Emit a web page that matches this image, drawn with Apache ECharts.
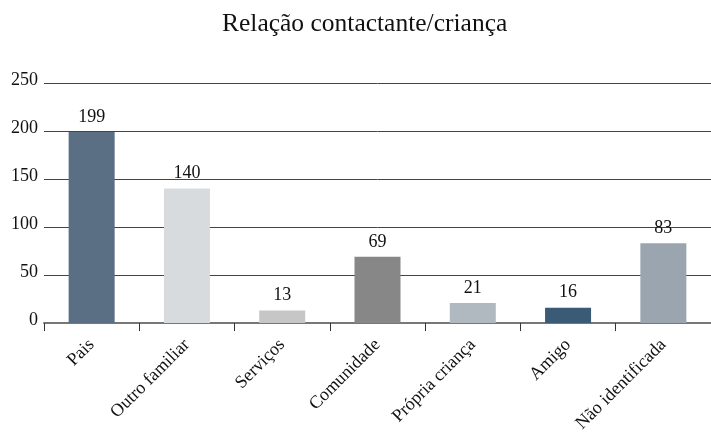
<!DOCTYPE html>
<html>
<head>
<meta charset="utf-8">
<script src="https://cdn.jsdelivr.net/npm/echarts@6/dist/echarts.min.js"></script>
<style>
html,body{margin:0;padding:0;background:#fff;}
#chart{width:711px;height:435px;}
</style>
</head>
<body>
<div id="chart"></div>
<script>
// Contacts by relationship to the child
const titleText = 'Relação contactante/criança';
const categories = ['Pais', 'Outro familiar', 'Serviços', 'Comunidade', 'Própria criança', 'Amigo', 'Não identificada'];
const values = [199, 140, 13, 69, 21, 16, 83];
const barColors = ['#5a6f84', '#d8dbde', '#c6c6c6', '#878787', '#b1b9c0', '#3b5a75', '#9ba5af'];
const yTicks = [0, 50, 100, 150, 200, 250];

const FONT = '"Liberation Serif", "DejaVu Serif", serif';

const chart = echarts.init(document.getElementById('chart'), null, {renderer: 'canvas'});
chart.setOption({
  animation: false,
  backgroundColor: '#ffffff',
  title: {
    text: titleText,
    left: 217,
    top: 6,
    textStyle: {fontFamily: FONT, fontSize: 25.5, fontWeight: 'normal', color: '#111'}
  },
  grid: {left: 44, right: -5, top: 83, bottom: 111, containLabel: false},
  xAxis: {
    type: 'category',
    data: categories,
    axisLine: {show: true, lineStyle: {color: '#777', width: 2}},
    axisTick: {show: true, length: 8, alignWithLabel: false, lineStyle: {color: '#333', width: 1}},
    axisLabel: {
      rotate: 45,
      interval: 0,
      margin: 19,
      fontFamily: FONT,
      fontSize: 18,
      color: '#111'
    }
  },
  yAxis: {
    type: 'value',
    min: yTicks[0],
    max: yTicks[yTicks.length - 1],
    interval: 50,
    axisLine: {show: false},
    axisTick: {show: false},
    axisLabel: {
      fontFamily: FONT,
      fontSize: 18,
      color: '#111',
      margin: 6,
      verticalAlign: 'bottom',
      lineHeight: 18,
      padding: [0, 0, -6, 0]
    },
    splitLine: {lineStyle: {color: '#444', width: 1}}
  },
  series: [{
    type: 'bar',
    data: values.map((v, i) => ({value: v, itemStyle: {color: barColors[i]}})),
    barWidth: 46,
    label: {
      show: true,
      position: 'top',
      distance: 6,
      fontFamily: FONT,
      fontSize: 18,
      color: '#111'
    }
  }]
});
</script>
</body>
</html>
